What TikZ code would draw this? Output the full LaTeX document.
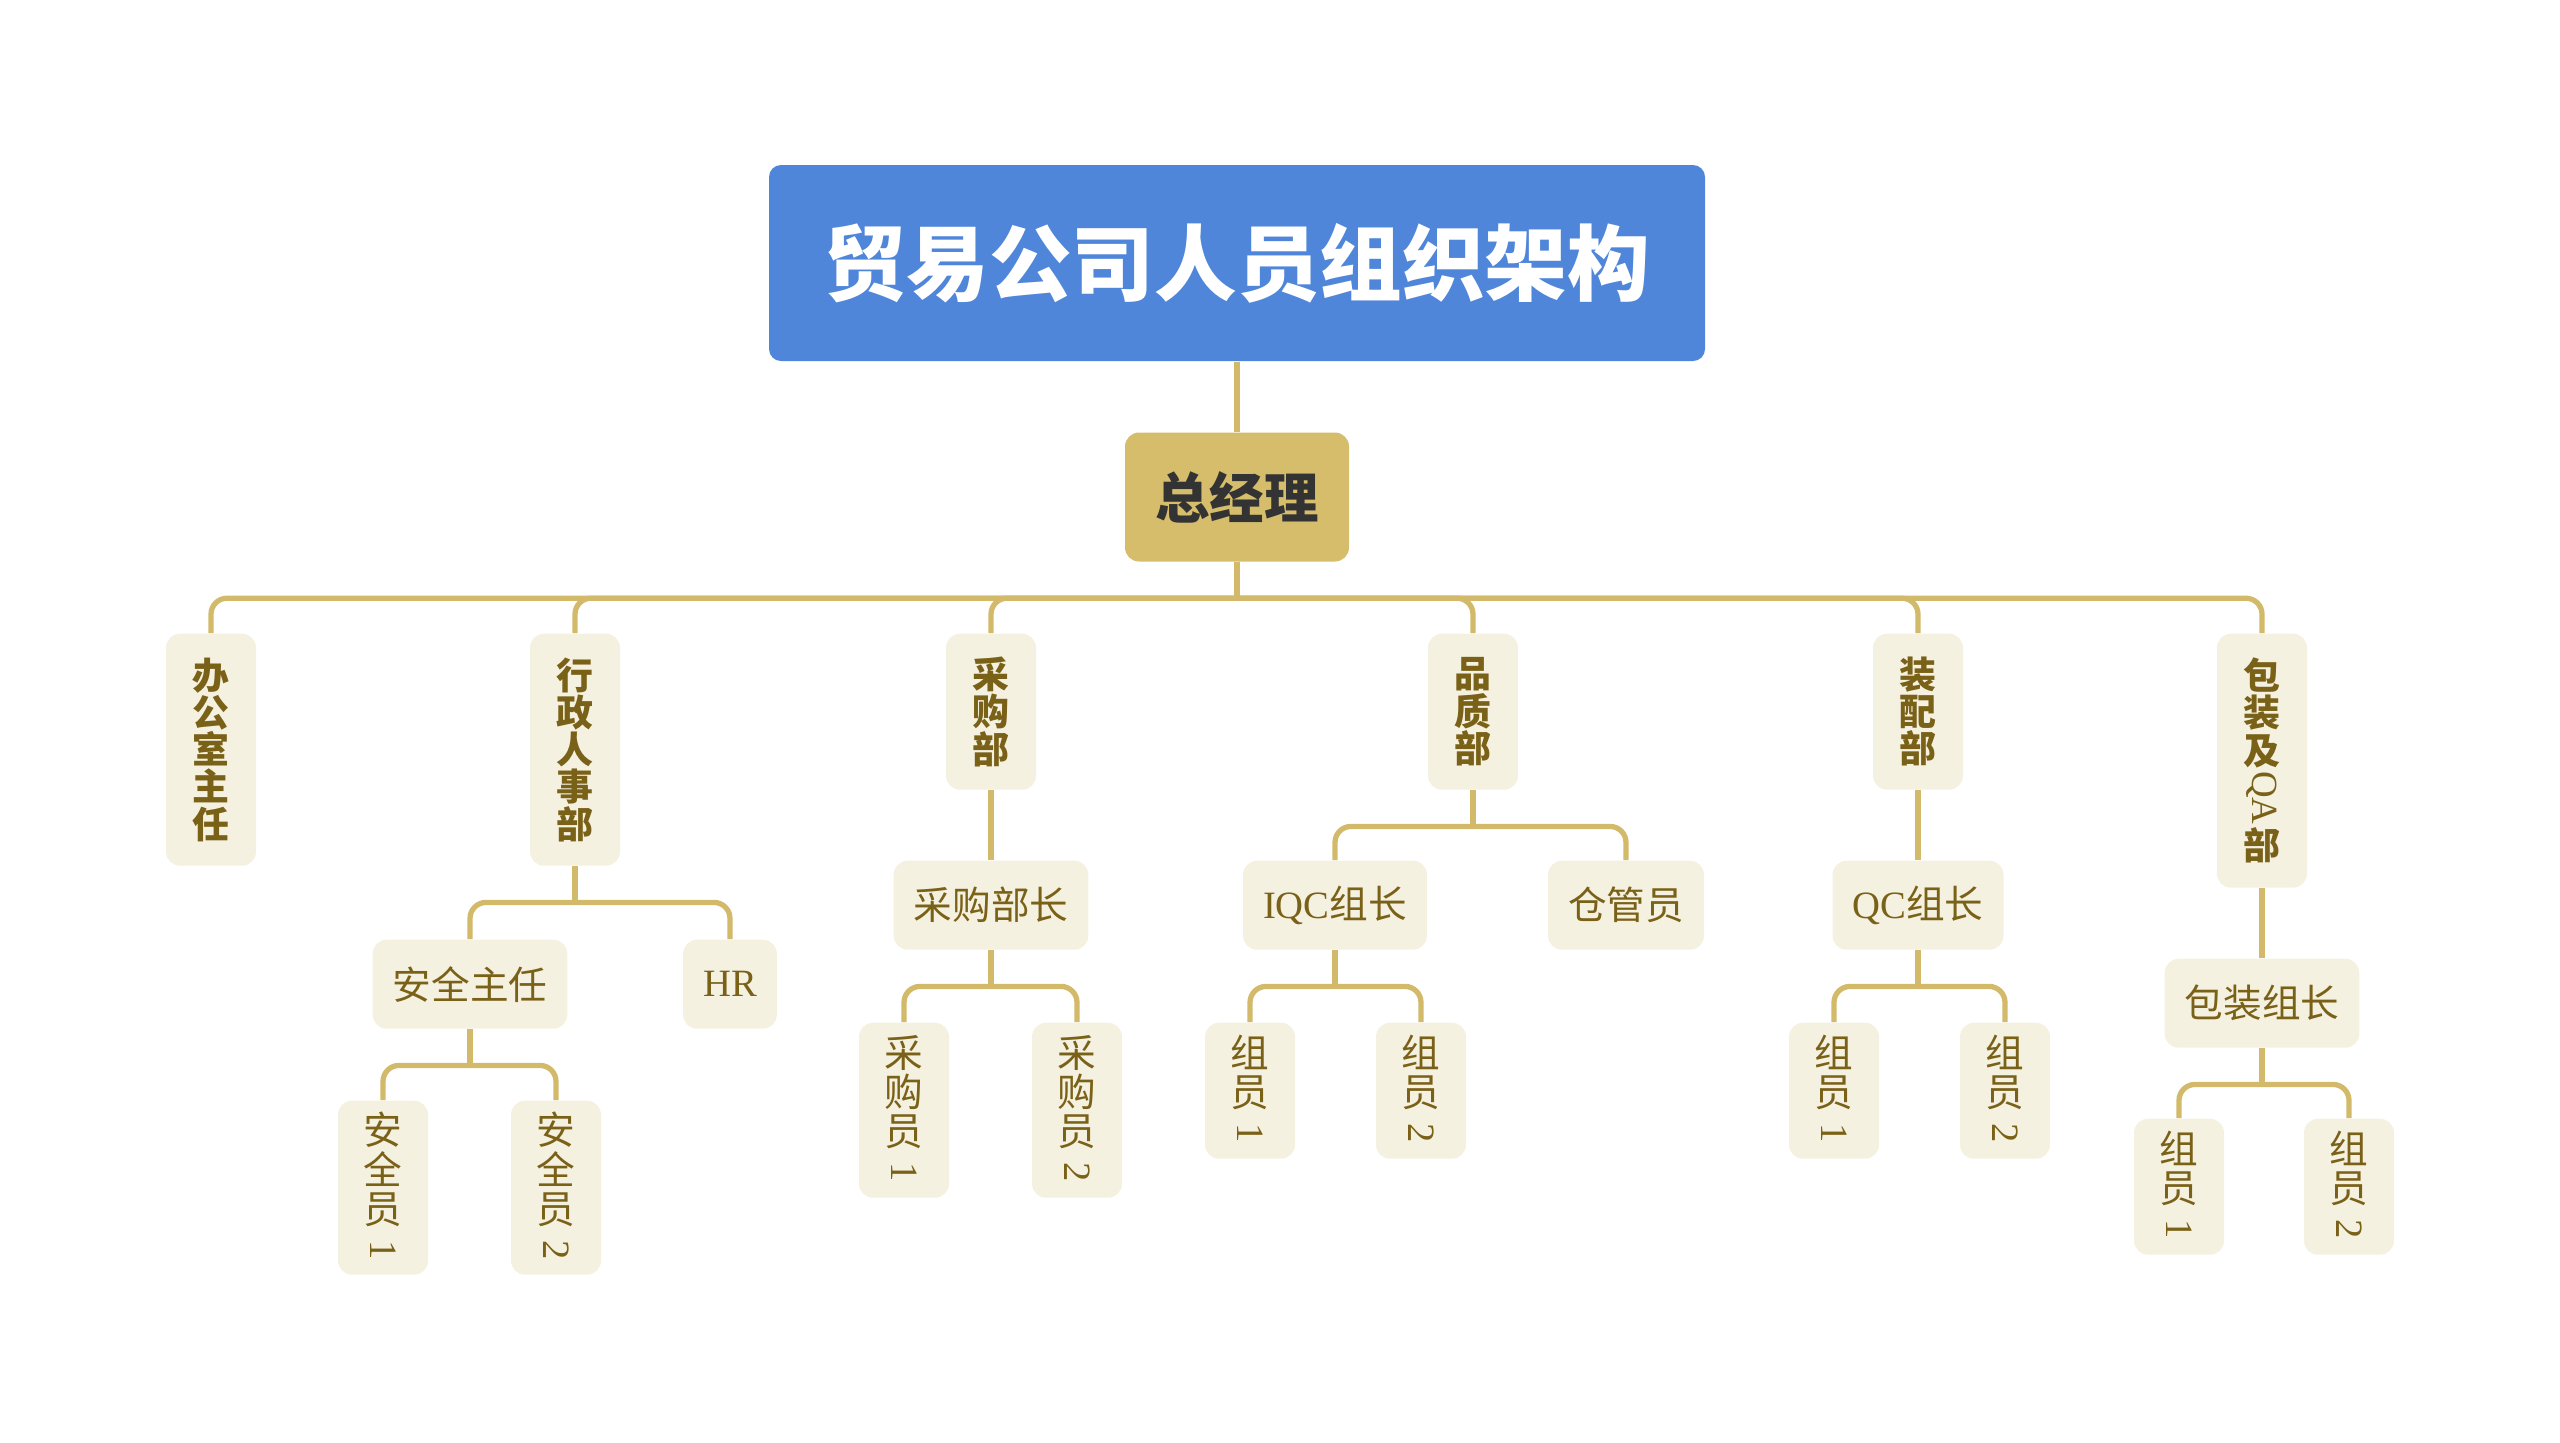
\documentclass[tikz,border=0pt]{standalone}
\usepackage{fontspec}
\usepackage{graphicx}
\usepackage{tikz}
\setmainfont{Liberation Serif}
\newfontfamily\cjk{Noto Sans CJK SC}
\usetikzlibrary{
    positioning
}
\definecolor{titleBlue}{RGB}{79,134,218}
\definecolor{gmGold}{RGB}{213,189,108}
\definecolor{cream}{RGB}{245,241,224}
\definecolor{olive}{RGB}{122,97,24}
\definecolor{linkGold}{RGB}{210,186,106}
\tikzset{
  titlebox/.style = {fill=titleBlue, rounded corners=0.12cm, text=white,
                     minimum width=9.36cm, minimum height=1.96cm,
                     font=\cjk\bfseries\fontsize{23.5}{28}\selectfont},
  gmbox/.style    = {fill=gmGold, rounded corners=0.14cm, text=black!80,
                     minimum width=2.24cm, minimum height=1.29cm,
                     font=\cjk\bfseries\fontsize{15.5}{18}\selectfont},
  dept/.style     = {fill=cream, rounded corners=0.14cm, text=olive,
                     anchor=north, minimum width=0.9cm, align=center,
                     inner ysep=0pt,
                     font=\cjk\bfseries\fontsize{10.5}{10.6}\selectfont},
  role/.style     = {fill=cream, rounded corners=0.14cm, text=olive,
                     anchor=north, minimum height=0.89cm, inner xsep=0.2cm,
                     font=\cjk\fontsize{11}{13}\selectfont},
  staff/.style    = {fill=cream, rounded corners=0.14cm, text=olive,
                     anchor=north, minimum width=0.9cm, align=center,
                     inner ysep=0pt,
                     font=\cjk\fontsize{11}{11.2}\selectfont},
  link/.style     = {draw=linkGold, line width=1.5pt, rounded corners=0.16cm}
}
\newcommand{\lat}[1]{{\normalfont #1}}
\newcommand{\vlat}[1]{\rotatebox[origin=c]{-90}{\normalfont #1}}

\begin{document}
\begin{tikzpicture}
\useasboundingbox (0,0) rectangle (25.6,-14.42);

% top
\node[titlebox] (title) at (12.37,-2.63) {贸易公司人员组织架构};
\node[gmbox] (gm) at (12.37,-4.97) {总经理};

% departments
\node[dept, minimum height=2.32cm] (off)  at (2.11,-6.33)  {办\\公\\室\\主\\任};
\node[dept, minimum height=2.32cm] (hrd)  at (5.75,-6.33)  {行\\政\\人\\事\\部};
\node[dept, minimum height=1.56cm] (pur)  at (9.91,-6.33)  {采\\购\\部};
\node[dept, minimum height=1.56cm] (qa)   at (14.73,-6.33) {品\\质\\部};
\node[dept, minimum height=1.56cm] (asm)  at (19.18,-6.33) {装\\配\\部};
\node[dept, minimum height=2.54cm] (pack) at (22.62,-6.33) {包\\装\\及\\\vlat{QA}\\部};

% heads
\node[role] (safe)  at (4.70,-9.39)  {安全主任};
\node[role] (hrx)   at (7.30,-9.39)  {\lat{HR}};
\node[role] (purh)  at (9.91,-8.60)  {采购部长};
\node[role] (iqc)   at (13.35,-8.60) {\lat{IQC}组长};
\node[role] (wh)    at (16.26,-8.60) {仓管员};
\node[role] (qc)    at (19.18,-8.60) {\lat{QC}组长};
\node[role] (packh) at (22.62,-9.58) {包装组长};

% staff
\node[staff, minimum height=1.74cm] (s1) at (3.83,-11.00)  {安\\全\\员\\\vlat{1}};
\node[staff, minimum height=1.74cm] (s2) at (5.56,-11.00)  {安\\全\\员\\\vlat{2}};
\node[staff, minimum height=1.75cm] (p1) at (9.04,-10.22)  {采\\购\\员\\\vlat{1}};
\node[staff, minimum height=1.75cm] (p2) at (10.77,-10.22) {采\\购\\员\\\vlat{2}};
\node[staff, minimum height=1.36cm] (i1) at (12.50,-10.22) {组\\员\\\vlat{1}};
\node[staff, minimum height=1.36cm] (i2) at (14.21,-10.22) {组\\员\\\vlat{2}};
\node[staff, minimum height=1.36cm] (q1) at (18.34,-10.22) {组\\员\\\vlat{1}};
\node[staff, minimum height=1.36cm] (q2) at (20.05,-10.22) {组\\员\\\vlat{2}};
\node[staff, minimum height=1.36cm] (k1) at (21.79,-11.18) {组\\员\\\vlat{1}};
\node[staff, minimum height=1.36cm] (k2) at (23.49,-11.18) {组\\员\\\vlat{2}};

% straight links
\draw[link] (title) -- (gm);
\draw[link] (pur) -- (purh);
\draw[link] (asm) -- (qc);
\draw[link] (pack) -- (packh);

% elbow links
\foreach \p/\kids in {gm/{off,hrd,pur,qa,asm,pack}, hrd/{safe,hrx},
    qa/{iqc,wh}, safe/{s1,s2}, purh/{p1,p2}, iqc/{i1,i2}, qc/{q1,q2},
    packh/{k1,k2}} {
  \draw[link] (\p.south) -- ++(0,-0.36) coordinate (j);
  \foreach \c in \kids
    \draw[link] (j) -| (\c.north);
}

\end{tikzpicture}
\end{document}
